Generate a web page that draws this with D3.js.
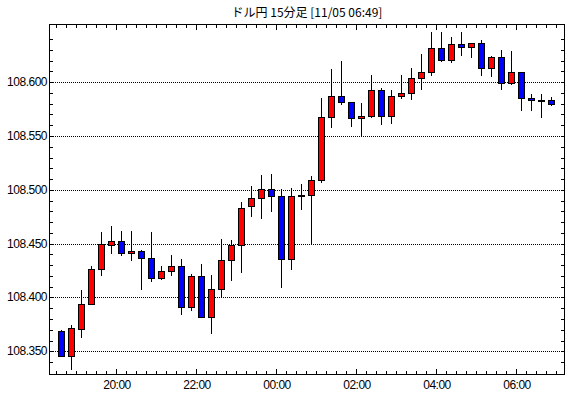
<!DOCTYPE html>
<html>
<head>
<meta charset="utf-8">
<script src="https://cdn.jsdelivr.net/npm/d3@7"></script>
<style>
  body { margin: 0; background: #fff; }
  svg { display: block; }
  .lbl { font-family: "Liberation Sans", Arial, sans-serif; font-size: 12px; letter-spacing: -0.5px; fill: #000; }
  .title { font-family: "Noto Sans CJK JP", sans-serif; font-size: 12px; fill: #000; }
</style>
</head>
<body>
<div id="chart"></div>
<script>
// candle start times (15 min bars, 11/04 18:30 -> 11/05 06:45)
const times = [
  "11/04 18:30","11/04 18:45","11/04 19:00","11/04 19:15","11/04 19:30","11/04 19:45",
  "11/04 20:00","11/04 20:15","11/04 20:30","11/04 20:45","11/04 21:00","11/04 21:15",
  "11/04 21:30","11/04 21:45","11/04 22:00","11/04 22:15","11/04 22:30","11/04 22:45",
  "11/04 23:00","11/04 23:15","11/04 23:30","11/04 23:45","11/05 00:00","11/05 00:15",
  "11/05 00:30","11/05 00:45","11/05 01:00","11/05 01:15","11/05 01:30","11/05 01:45",
  "11/05 02:00","11/05 02:15","11/05 02:30","11/05 02:45","11/05 03:00","11/05 03:15",
  "11/05 03:30","11/05 03:45","11/05 04:00","11/05 04:15","11/05 04:30","11/05 04:45",
  "11/05 05:00","11/05 05:15","11/05 05:30","11/05 05:45","11/05 06:00","11/05 06:15",
  "11/05 06:30","11/05 06:45"
];
const openP = [
  108.369,108.346,108.371,108.394,108.426,108.449,108.452,108.441,108.443,108.437,
  108.418,108.425,108.429,108.391,108.420,108.382,108.408,108.435,108.449,108.485,
  108.492,108.501,108.494,108.436,108.494,108.495,108.509,108.568,108.587,108.582,
  108.567,108.569,108.593,108.569,108.587,108.590,108.604,108.609,108.632,108.621,
  108.635,108.633,108.636,108.613,108.623,108.599,108.609,108.585,108.583,108.583
];
const highP = [
  108.370,108.374,108.407,108.429,108.461,108.466,108.462,108.462,108.444,108.461,
  108.429,108.439,108.436,108.422,108.431,108.421,108.454,108.453,108.489,108.504,
  108.514,108.515,108.501,108.502,108.505,108.513,108.585,108.612,108.620,108.582,
  108.581,108.607,108.595,108.593,108.607,108.613,108.626,108.647,108.647,108.642,
  108.647,108.636,108.639,108.624,108.630,108.629,108.609,108.589,108.589,108.586
];
const lowP = [
  108.346,108.334,108.363,108.394,108.421,108.441,108.439,108.435,108.408,108.415,
  108.417,108.421,108.385,108.388,108.382,108.367,108.400,108.416,108.424,108.476,
  108.474,108.480,108.410,108.426,108.482,108.450,108.507,108.558,108.580,108.559,
  108.551,108.568,108.561,108.562,108.585,108.584,108.594,108.607,108.620,108.619,
  108.625,108.623,108.607,108.606,108.594,108.598,108.574,108.574,108.568,108.579
];
const closeP = [
  108.346,108.372,108.394,108.426,108.450,108.452,108.441,108.443,108.437,108.418,
  108.425,108.429,108.391,108.420,108.382,108.408,108.435,108.449,108.483,108.492,
  108.501,108.494,108.436,108.494,108.495,108.509,108.568,108.587,108.582,108.567,
  108.569,108.593,108.569,108.587,108.590,108.604,108.609,108.632,108.621,108.635,
  108.633,108.636,108.613,108.623,108.599,108.609,108.585,108.583,108.583,108.580
];
const priceLabels = [108.350, 108.400, 108.450, 108.500, 108.550, 108.600];
const timeLabels = ["11/04 20:00","11/04 22:00","11/05 00:00","11/05 02:00","11/05 04:00","11/05 06:00"];
const titleText = "ドル円 15分足 [11/05 06:49]";

const W = 570, H = 398;
const plot = {left: 49, right: 565, top: 24, bottom: 375};

const parse = d3.timeParse("%Y/%m/%d %H:%M");
const toDate = s => parse("2019/" + s);

const data = times.map((t, i) => ({
  t: toDate(t), o: openP[i], h: highP[i], l: lowP[i], c: closeP[i]
}));

const x = d3.scaleTime()
  .domain([toDate("11/04 18:20"), toDate("11/05 07:14")])
  .range([plot.left, plot.right]);

const y = d3.scaleLinear()
  .domain([108.328, 108.654])
  .range([plot.bottom, plot.top]);

const px = v => Math.round(v) + 0.5;

const svg = d3.select("#chart").append("svg")
  .attr("width", W)
  .attr("height", H)
  .attr("shape-rendering", "crispEdges");

svg.append("rect").attr("width", W).attr("height", H).attr("fill", "#fff");

/* title */
svg.append("text")
  .attr("class", "title")
  .attr("x", (plot.left + plot.right) / 2)
  .attr("y", 17)
  .attr("text-anchor", "middle")
  .text(titleText);

/* dotted grid lines */
svg.append("g").selectAll("line")
  .data(priceLabels)
  .join("line")
    .attr("x1", plot.left)
    .attr("x2", plot.right)
    .attr("y1", d => px(y(d)))
    .attr("y2", d => px(y(d)))
    .attr("stroke", "#000")
    .attr("stroke-dasharray", "1,1");

/* y labels */
svg.append("g").selectAll("text")
  .data(priceLabels)
  .join("text")
    .attr("class", "lbl")
    .attr("x", plot.left - 2)
    .attr("y", d => Math.round(y(d)) + 4)
    .attr("text-anchor", "end")
    .text(d => d3.format(".3f")(d));

/* y minor ticks, left & right, inward */
const yTicks = d3.range(34, 65).map(k => 108 + k / 100);
const gy = svg.append("g").attr("stroke", "#000");
gy.selectAll(".tl").data(yTicks).join("line").attr("class", "tl")
  .attr("x1", plot.left).attr("x2", plot.left + 4)
  .attr("y1", d => px(y(d))).attr("y2", d => px(y(d)));
gy.selectAll(".tr").data(yTicks).join("line").attr("class", "tr")
  .attr("x1", plot.right - 4).attr("x2", plot.right)
  .attr("y1", d => px(y(d))).attr("y2", d => px(y(d)));

/* x ticks every 15 min, longer on labelled hours */
const xTicks = d3.timeMinute.every(15).range(toDate("11/04 18:30"), toDate("11/05 07:01"));
const majorSet = new Set(timeLabels.map(s => +toDate(s)));
const gx = svg.append("g").attr("stroke", "#000");
gx.selectAll(".tt").data(xTicks).join("line").attr("class", "tt")
  .attr("x1", d => px(x(d))).attr("x2", d => px(x(d)))
  .attr("y1", plot.top).attr("y2", d => plot.top + (majorSet.has(+d) ? 6 : 4));
gx.selectAll(".tb").data(xTicks).join("line").attr("class", "tb")
  .attr("x1", d => px(x(d))).attr("x2", d => px(x(d)))
  .attr("y1", plot.bottom).attr("y2", d => plot.bottom - (majorSet.has(+d) ? 6 : 4));

svg.append("g").selectAll("text")
  .data(timeLabels)
  .join("text")
    .attr("class", "lbl")
    .attr("x", d => Math.round(x(toDate(d))) + 1)
    .attr("y", 389)
    .attr("text-anchor", "middle")
    .text(d => d.slice(6));

/* candles */
const half = 7.5 * 60 * 1000;
const candles = svg.append("g").selectAll("g")
  .data(data)
  .join("g");

candles.append("line")
  .attr("x1", d => px(x(+d.t + half)))
  .attr("x2", d => px(x(+d.t + half)))
  .attr("y1", d => Math.round(y(d.h)))
  .attr("y2", d => Math.round(y(d.l)) + 1)
  .attr("stroke", "#000");

candles.append("rect")
  .attr("x", d => Math.round(x(+d.t + half)) - 3 + 0.5)
  .attr("width", 6)
  .attr("y", d => px(y(Math.max(d.o, d.c))))
  .attr("height", d => Math.max(1, Math.round(y(Math.min(d.o, d.c))) - Math.round(y(Math.max(d.o, d.c)))))
  .attr("fill", d => d.c >= d.o ? "#ff0000" : "#0000ff")
  .attr("stroke", "#000");

/* frame */
svg.append("rect")
  .attr("x", plot.left + 0.5)
  .attr("y", plot.top + 0.5)
  .attr("width", plot.right - plot.left - 1)
  .attr("height", plot.bottom - plot.top - 1)
  .attr("fill", "none")
  .attr("stroke", "#000");
</script>
</body>
</html>
